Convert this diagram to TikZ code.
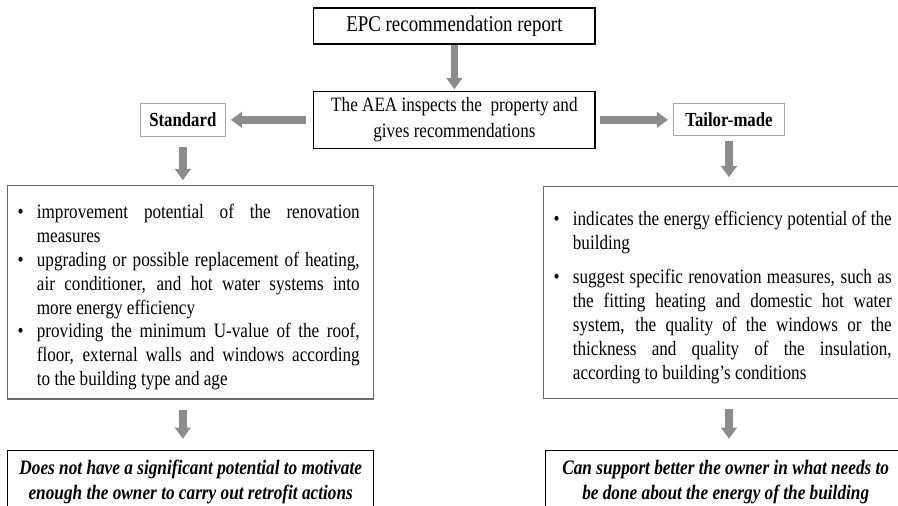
\documentclass[tikz,border=0pt]{standalone}
\usepackage{fontspec}
\setmainfont[FakeStretch=0.84]{Liberation Serif}
\usepackage{enumitem}
\usetikzlibrary{positioning,arrows.meta}
\definecolor{arrowgray}{RGB}{140,140,140}
\definecolor{framegray}{RGB}{105,105,105}
\setlist[itemize]{label=\textbullet, leftmargin=0.48cm, labelsep=0.28cm,
    labelwidth=0.2cm, align=left, topsep=0pt, partopsep=0pt, parsep=0pt, itemsep=0pt}
\tikzset{
    main box/.style = {
        draw, line width=0.9pt,
        inner sep=0pt,
        align=center,
        },
    kind box/.style = {
        draw=gray!70, line width=0.8pt,
        inner sep=0pt,
        font=\fontsize{14.2pt}{17pt}\selectfont\bfseries,
        },
    list box/.style = {
        draw=framegray, line width=1pt,
        inner xsep=0.25cm, inner ysep=0pt,
        align=justify,
        font=\fontsize{14.5pt}{17pt}\selectfont,
        },
    result box/.style = {
        draw, line width=1pt,
        inner sep=0pt,
        align=center,
        font=\fontsize{14.6pt}{17.8pt}\selectfont\bfseries\itshape,
        },
    flow/.style = {
        draw=arrowgray, line width=5.5pt,
        -{Triangle[width=11pt,length=8pt]},
        },
}

\begin{document}
\begin{tikzpicture}
    \useasboundingbox (0,0) rectangle (22.45,-12.65);
    \clip (0,0) rectangle (22.45,-12.65);

    \node[main box, minimum width=7.03cm, minimum height=0.9cm,
        font=\fontsize{16pt}{19pt}\selectfont] (epc) at (11.36,-0.65) {EPC recommendation report};
    \node[main box, minimum width=7.03cm, minimum height=1.43cm, below=1.15cm of epc,
        font=\fontsize{14.5pt}{18.5pt}\selectfont] (aea) {The AEA inspects the~ property and\\gives recommendations};
    \node[kind box, minimum width=2.13cm, minimum height=0.83cm, left=2.18cm of aea] (std) {Standard};
    \node[kind box, minimum width=2.78cm, minimum height=0.8cm, right=1.93cm of aea] (tm) {Tailor-made};

    \node[list box, anchor=north west, text width=8.65cm, minimum height=5.33cm] (stdlist) at (0.175,-4.625) {%
        \begin{itemize}[rightmargin=0.1cm]
            \item improvement potential of the renovation\linebreak measures
            \item upgrading or possible replacement of heating,\linebreak air conditioner, and hot water systems into\linebreak more energy efficiency
            \item providing the minimum U-value of the roof,\linebreak floor, external walls and windows according\linebreak to the building type and age
        \end{itemize}};
    \node[list box, anchor=north west, text width=8.45cm, minimum height=5.3cm] (tmlist) at (13.575,-4.65) {%
        \begin{itemize}[itemsep=0.25cm]
            \item indicates the energy efficiency potential of the\linebreak building
            \item suggest specific renovation measures, such as\linebreak the fitting heating and domestic hot water\linebreak system, the quality of the windows or the\linebreak thickness and quality of the insulation,\linebreak according to building's conditions
        \end{itemize}};

    \node[result box, anchor=north west, minimum width=9.15cm, minimum height=1.55cm] (stdres) at (0.175,-11.25)
        {Does not have a significant potential to motivate\\enough the owner to carry out retrofit actions};
    \node[result box, anchor=north west, minimum width=9cm, minimum height=1.55cm] (tmres) at (13.625,-11.25)
        {Can support better the owner in what needs to\\be done about the energy of the building};

    \draw[flow, shorten >=1pt] (epc) -- (aea);
    \draw[flow, shorten <=0.18cm, shorten >=0.12cm] (aea) -- (std);
    \draw[flow, shorten <=0.1cm, shorten >=0.12cm] (aea) -- (tm);
    \draw[flow, shorten <=0.25cm, shorten >=0.12cm] (std) -- (std |- stdlist.north);
    \draw[flow, shorten <=0.12cm, shorten >=0.22cm] (tm) -- (tm |- tmlist.north);
    \draw[flow, shorten <=0.25cm, shorten >=0.28cm] (std |- stdlist.south) -- (std |- stdres.north);
    \draw[flow, shorten <=0.25cm, shorten >=0.28cm] (tm |- tmlist.south) -- (tm |- tmres.north);
\end{tikzpicture}
\end{document}
